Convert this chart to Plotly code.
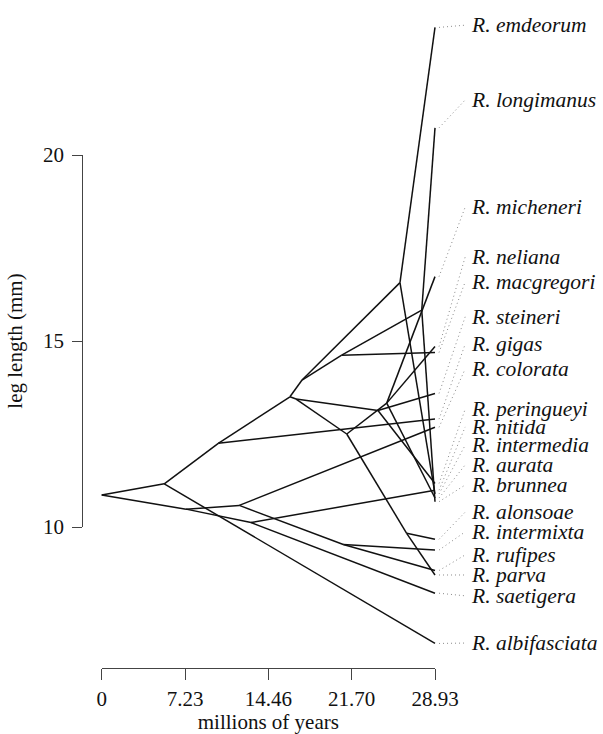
import plotly.graph_objects as go

# ---------------- data ----------------
species = ["R. emdeorum", "R. longimanus", "R. micheneri", "R. neliana", "R. macgregori",
           "R. steineri", "R. gigas", "R. colorata", "R. peringueyi", "R. nitida",
           "R. intermedia", "R. aurata", "R. brunnea", "R. alonsoae", "R. intermixta",
           "R. rufipes", "R. parva", "R. saetigera", "R. albifasciata"]
tip_values = [23.43, 20.73, 16.73, 14.85, 14.69, 13.59, 12.90, 12.68, 11.17, 10.99,
              10.89, 10.78, 10.68, 9.67, 9.38, 8.83, 8.71, 8.22, 6.87]
tip_parent = ["K", "M", "Q", "Q", "L", "P", "B", "C", "P", "D",
              "K", "Q", "M", "F", "E", "E", "F", "D", "A"]
tip_time = 28.93

node_names = ["root", "A", "G", "B", "C", "D", "H", "I", "J", "K", "L", "M", "N", "P", "Q", "E", "F"]
node_times = [0.0, 5.43, 7.32, 10.12, 11.94, 12.96, 16.34, 17.39, 16.87, 25.89, 20.83, 27.78,
              21.27, 23.98, 24.74, 20.97, 26.47]
node_values = [10.86, 11.16, 10.48, 12.25, 10.58, 10.12, 13.50, 13.95, 13.44, 16.57, 14.62, 15.83,
               12.50, 13.13, 13.33, 9.53, 9.83]
node_parent = [None, "root", "root", "A", "G", "G", "B", "H", "H", "I", "I", "L",
               "J", "J", "N", "C", "N"]

x_ticks = [0, 7.23, 14.46, 21.70, 28.93]
x_tick_labels = ["0", "7.23", "14.46", "21.70", "28.93"]
y_ticks = [10, 15, 20]
y_tick_labels = ["10", "15", "20"]

# label placement (layout only)
label_y = [23.49, 21.48, 18.60, 17.26, 16.59, 15.65, 14.92, 14.25, 13.17, 12.69,
           12.20, 11.67, 11.13, 10.40, 9.87, 9.25, 8.71, 8.15, 6.88]

# ---------------- geometry of the page ----------------
W, H = 603, 734
px_per_t = 11.521
x0_px = 101.7
px_per_v = 37.2
y10_px = 527.0

x_range = [-x0_px / px_per_t, (W - x0_px) / px_per_t]
y_range = [10 - (H - y10_px) / px_per_v, 10 + y10_px / px_per_v]

pos = {n: (t, v) for n, t, v in zip(node_names, node_times, node_values)}

tx, ty = [], []
for n, p in zip(node_names, node_parent):
    if p is None:
        continue
    tx += [pos[p][0], pos[n][0], None]
    ty += [pos[p][1], pos[n][1], None]
for v, p in zip(tip_values, tip_parent):
    tx += [pos[p][0], tip_time, None]
    ty += [pos[p][1], v, None]

lead_start = 29.28
lead_end = 31.55
label_x = 31.85
dx, dy = [], []
for v, ly in zip(tip_values, label_y):
    dx += [lead_start, lead_end, None]
    dy += [v, ly, None]

fig = go.Figure()
fig.add_trace(go.Scatter(x=tx, y=ty, mode="lines",
                         line=dict(color="#111111", width=1.5),
                         hoverinfo="skip", showlegend=False))
fig.add_trace(go.Scatter(x=dx, y=dy, mode="lines",
                         line=dict(color="#8a8a8a", width=1, dash="1px,3px"),
                         hoverinfo="skip", showlegend=False))
# invisible trace for the display axes
fig.add_trace(go.Scatter(x=[0, 28.93], y=[10, 20], xaxis="x2", yaxis="y2",
                         mode="markers", marker=dict(opacity=0),
                         hoverinfo="skip", showlegend=False))

serif = "Liberation Serif, Times New Roman, serif"
for name, ly in zip(species, label_y):
    fig.add_annotation(x=label_x, y=ly, xref="x", yref="y", text="<i>" + name + "</i>",
                       showarrow=False, xanchor="left", yanchor="middle",
                       font=dict(family=serif, size=21.5, color="#111111"))

fig.update_layout(
    width=W, height=H,
    margin=dict(l=0, r=0, t=0, b=0, autoexpand=False),
    paper_bgcolor="white", plot_bgcolor="rgba(0,0,0,0)",
    hovermode=False,
    xaxis=dict(domain=[0, 1], range=x_range, visible=False, fixedrange=True, automargin=False),
    yaxis=dict(domain=[0, 1], range=y_range, visible=False, fixedrange=True, automargin=False),
    xaxis2=dict(domain=[x0_px / W, (x0_px + 28.93 * px_per_t) / W], range=[0, 28.93],
                anchor="free", position=(H - 668.3) / H, automargin=False, fixedrange=True,
                showline=True, linecolor="#444444", linewidth=1,
                ticks="outside", ticklen=11, tickwidth=1, tickcolor="#444444",
                tickvals=x_ticks, ticktext=x_tick_labels, showgrid=False, zeroline=False,
                tickfont=dict(family=serif, size=21, color="#111111"),
                ticklabelstandoff=0,
                title=dict(text="millions of years", standoff=2,
                           font=dict(family=serif, size=21, color="#111111"))),
    yaxis2=dict(domain=[(H - y10_px) / H, (H - 155.0) / H], range=[10, 20],
                anchor="free", position=82.3 / W, automargin=False, fixedrange=True,
                showline=True, linecolor="#444444", linewidth=1,
                ticks="outside", ticklen=10, tickwidth=1, tickcolor="#444444",
                tickvals=y_ticks, ticktext=y_tick_labels, showgrid=False, zeroline=False,
                tickfont=dict(family=serif, size=21, color="#111111"),
                ticklabelstandoff=4,
                title=dict(text="leg length (mm)", standoff=13,
                           font=dict(family=serif, size=21, color="#111111"))),
)

fig.write_html("out.html", config={"displayModeBar": False, "staticPlot": True},
               post_script="document.body.style.margin='0px';document.body.style.padding='0px';")
